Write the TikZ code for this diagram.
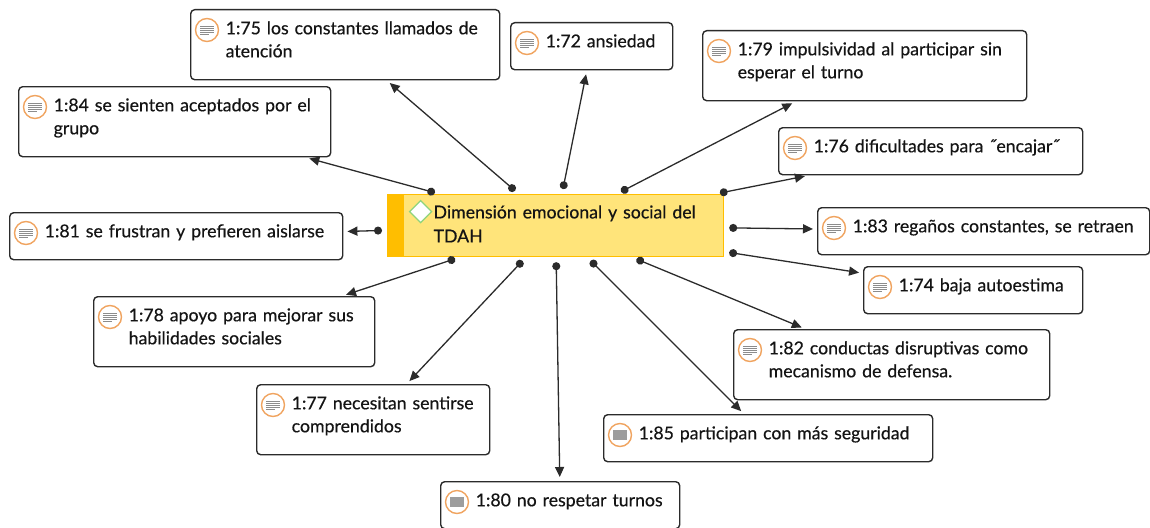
\documentclass[tikz,border=0pt]{standalone}
\usepackage{fontspec}
\setmainfont{Lato}[FakeBold=0.5]
\usetikzlibrary{positioning}
\usetikzlibrary{arrows.meta}
\definecolor{linegray}{HTML}{2B2B2B}
\definecolor{codeorange}{HTML}{F0A460}
\definecolor{icongray}{HTML}{8C8C8C}
\definecolor{groupfill}{HTML}{FFE47A}
\definecolor{groupbar}{HTML}{FFBE00}
\definecolor{diamondgreen}{HTML}{8ED47C}
\tikzset{
quote/.style={draw=linegray,line width=1.4pt,rounded corners=4pt,anchor=north west,align=left,
  inner xsep=9pt,inner ysep=8.5pt,text=black!92,font=\fontsize{17.7}{23}\selectfont},
theme/.style={draw=groupbar,fill=groupfill,line width=1.2pt,anchor=north west,align=left,
  text width=320pt,inner xsep=8pt,inner ysep=7pt,text=black!92,font=\fontsize{17.7}{24}\selectfont,
  path picture={\fill[groupbar] (path picture bounding box.north west) rectangle ([xshift=16pt]path picture bounding box.south west);
  \draw[diamondgreen,line width=1.3pt,fill=white] ([shift={(22,17)}]path picture bounding box.north west) -- ++(11,-11) -- ++(11,11) -- ++(-11,11) -- cycle;}},
qicon/.style={circle,draw=codeorange,line width=1.4pt,fill=white,minimum size=23pt,inner sep=0pt,
  path picture={\foreach \dy/\len in {-4/14,-2/14,0/14,2/14,4/9}
  \draw[icongray,line width=0.9pt] ([shift={(-7,\dy)}]path picture bounding box.center) -- ++(\len,0);}},
qicon dense/.style={qicon,path picture={\fill[icongray!85] ([shift={(-7,-5)}]path picture bounding box.center) rectangle ++(14,10);}},
conn/.style={draw=linegray,line width=1.3pt,{Circle[length=8pt]}-{Triangle[length=10pt,width=9pt]},
  shorten <=5pt,shorten >=4pt}
}
\newcommand{\qtext}[1]{\leftskip=26pt\rightskip=-20pt plus 1fil\relax\noindent\strut#1\strut\par\kern7pt}
\newcommand{\gtext}[1]{\leftskip=38pt\rightskip=-20pt plus 1fil\relax\noindent\strut#1\strut\par}

\begin{document}
\begin{tikzpicture}[x=1pt,y=-1pt]
\useasboundingbox (0,0) rectangle (1150,527);
% theme in the middle
\node[theme] (c) at (387,194) {\gtext{Dimensión emocional y social del\\TDAH}};
% quotations
\node[quote,text width=291pt] (q75) at (190,9) {\qtext{1:75 los constantes llamados de\\atención}};
\node[quote,text width=144pt] (q72) at (510,22) {\qtext{1:72 ansiedad}};
\node[quote,text width=306pt] (q79) at (702,30) {\qtext{1:79 impulsividad al participar sin\\esperar el turno}};
\node[quote,text width=294pt] (q84) at (18,86) {\qtext{1:84 se sienten aceptados por el\\grupo}};
\node[quote,text width=286pt] (q76) at (778,127) {\qtext{1:76 dificultades para ˝encajar˝}};
\node[quote,text width=315pt] (q81) at (9,212) {\qtext{1:81 se frustran y prefieren aislarse}};
\node[quote,text width=314pt] (q83) at (817,207) {\qtext{1:83 regaños constantes, se retraen}};
\node[quote,text width=201pt] (q74) at (863,266) {\qtext{1:74 baja autoestima}};
\node[quote,text width=263pt] (q78) at (93,296) {\qtext{1:78 apoyo para mejorar sus\\habilidades sociales}};
\node[quote,text width=298pt] (q82) at (733,329) {\qtext{1:82 conductas disruptivas como\\mecanismo de defensa.}};
\node[quote,text width=215pt] (q77) at (256,384) {\qtext{1:77 necesitan sentirse\\comprendidos}};
\node[quote,text width=311pt] (q85) at (603,414) {\qtext{1:85 participan con más seguridad}};
\node[quote,text width=221pt] (q80) at (440,481) {\qtext{1:80 no respetar turnos}};
% icons
\foreach \b in {q75,q72,q79,q84,q76,q81,q83,q74,q78,q82,q77}
  \node[qicon] (i\b) at ([xshift=17pt,yshift=-21pt]\b.north west) {};
\foreach \b in {q85,q80}
  \node[qicon dense] (i\b) at ([xshift=17pt,yshift=-21pt]\b.north west) {};
% links
\foreach \b in {q75,q72,q79,q84,q76,q81,q83,q74,q78,q82,q77,q85,q80}
  \draw[conn] (c) -- (\b);
\end{tikzpicture}
\end{document}
